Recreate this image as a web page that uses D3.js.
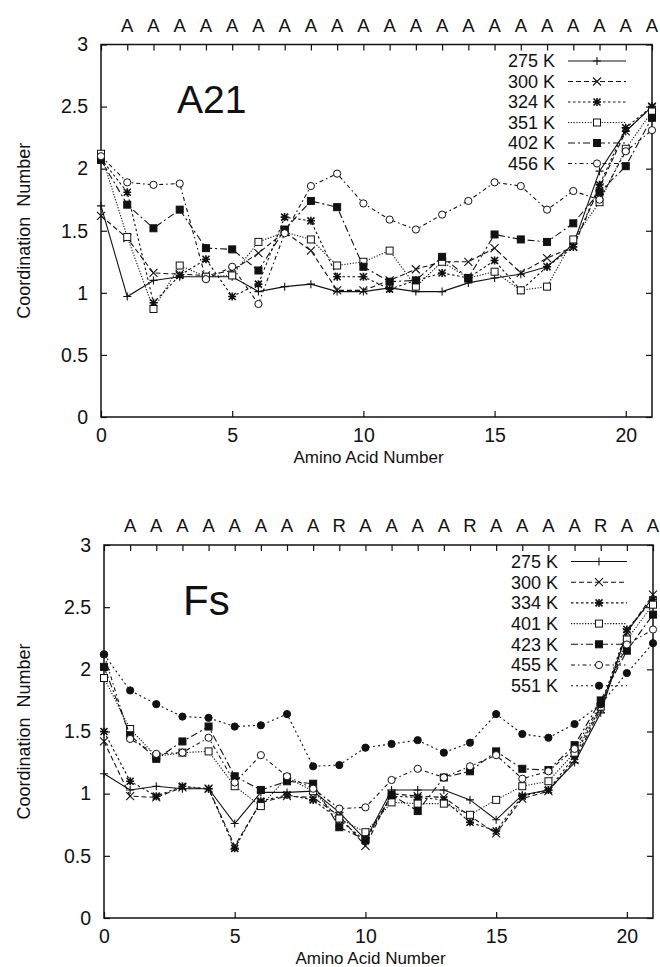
<!DOCTYPE html>
<html>
<head>
<meta charset="utf-8">
<script src="https://cdn.jsdelivr.net/npm/d3@7"></script>
<style>
body { margin: 0; background: #fff; }
svg { display: block; }
text { font-family: "Liberation Sans", Arial, sans-serif; fill: #111; }
</style>
</head>
<body>
<svg id="chart" width="660" height="967"></svg>
<script>
/**
* Data
*/
var aminoAcid = [0,1,2,3,4,5,6,7,8,9,10,11,12,13,14,15,16,17,18,19,20,21];
var xTicks = [0,5,10,15,20];
var yTicks = [0,0.5,1,1.5,2,2.5,3];

var a21Letters = ["A","A","A","A","A","A","A","A","A","A","A","A","A","A","A","A","A","A","A","A","A"];
var fsLetters  = ["A","A","A","A","A","A","A","A","R","A","A","A","A","R","A","A","A","A","R","A","A"];

var a21Names = ["275 K","300 K","324 K","351 K","402 K","456 K"];
var a21_275 = [1.70,0.97,1.10,1.13,1.13,1.13,1.01,1.05,1.07,1.01,1.01,1.04,1.01,1.01,1.08,1.12,1.15,1.21,1.39,1.98,2.30,2.50];
var a21_300 = [1.62,1.44,1.16,1.15,1.14,1.18,1.32,1.49,1.34,1.02,1.02,1.10,1.19,1.25,1.25,1.36,1.16,1.28,1.37,1.85,2.30,2.50];
var a21_324 = [2.08,1.81,0.92,1.14,1.27,0.97,1.07,1.61,1.58,1.13,1.13,1.03,1.10,1.16,1.12,1.26,1.02,1.21,1.37,1.87,2.33,2.50];
var a21_351 = [2.12,1.45,0.87,1.22,1.13,1.14,1.41,1.49,1.43,1.22,1.25,1.34,1.05,1.25,1.12,1.17,1.02,1.05,1.43,1.73,2.16,2.46];
var a21_402 = [2.07,1.71,1.52,1.67,1.36,1.35,1.18,1.51,1.74,1.69,1.21,1.09,1.10,1.29,1.12,1.47,1.43,1.41,1.56,1.81,2.02,2.41];
var a21_456 = [2.10,1.89,1.87,1.88,1.11,1.21,0.91,1.48,1.86,1.96,1.72,1.59,1.51,1.63,1.74,1.89,1.86,1.67,1.82,1.75,2.14,2.31];

var fsNames = ["275 K","300 K","334 K","401 K","423 K","455 K","551 K"];
var fs_275 = [1.16,1.03,1.06,1.04,1.04,0.76,1.01,1.01,1.02,0.85,0.63,1.03,1.03,1.03,0.95,0.79,0.99,1.03,1.25,1.65,2.30,2.58];
var fs_300 = [1.42,0.98,0.97,1.05,1.04,0.58,0.93,0.98,0.97,0.82,0.58,1.00,0.98,0.97,0.82,0.68,0.96,1.02,1.27,1.68,2.30,2.60];
var fs_334 = [1.50,1.10,0.98,1.06,1.04,0.56,0.94,0.99,0.95,0.79,0.62,0.98,0.97,0.95,0.77,0.70,0.98,1.03,1.30,1.70,2.32,2.56];
var fs_401 = [1.93,1.52,1.30,1.33,1.34,1.06,0.90,1.13,1.02,0.80,0.69,0.93,0.92,0.92,0.83,0.95,1.06,1.10,1.33,1.70,2.24,2.52];
var fs_423 = [2.02,1.47,1.28,1.42,1.54,1.14,1.03,1.10,1.08,0.73,0.63,0.99,0.86,1.13,1.18,1.34,1.20,1.19,1.39,1.75,2.15,2.44];
var fs_455 = [2.12,1.44,1.32,1.33,1.45,1.09,1.31,1.14,1.04,0.88,0.89,1.11,1.20,1.13,1.22,1.31,1.12,1.18,1.36,1.72,2.20,2.32];
var fs_551 = [2.12,1.83,1.72,1.62,1.61,1.54,1.55,1.64,1.22,1.23,1.37,1.40,1.43,1.33,1.41,1.64,1.48,1.45,1.56,1.72,1.97,2.21];

/* line / marker style per series slot */
var styles = [
	{ dash: null,          marker: "plus"   },
	{ dash: "5,3",         marker: "cross"  },
	{ dash: "2.5,2.5",     marker: "star"   },
	{ dash: "1.2,1.6",     marker: "square" },
	{ dash: "7,3,2,3",     marker: "squareFilled" },
	{ dash: "4,3,1.5,3",   marker: "circle" },
	{ dash: "2,3",         marker: "circleFilled" }
];

/**
* @func Append a marker of given kind centered at (cx, cy)
*/
function drawMarker(g, kind, cx, cy)
{
	var m = g.append("g").attr("transform", "translate(" + cx + "," + cy + ")");
	var s = 4;
	if (kind == "plus") {
		m.append("path").attr("d", "M" + (-s) + ",0H" + s + "M0," + (-s) + "V" + s)
			.attr("stroke", "#111").attr("stroke-width", 1.1);
	} else if (kind == "cross") {
		m.append("path").attr("d", "M-4,-4L4,4M-4,4L4,-4")
			.attr("stroke", "#111").attr("stroke-width", 1.1);
	} else if (kind == "star") {
		m.append("path").attr("d", "M-3.5,-3.5L3.5,3.5M-3.5,3.5L3.5,-3.5M-4,0H4M0,-4V4")
			.attr("stroke", "#111").attr("stroke-width", 1.6);
	} else if (kind == "square" || kind == "squareFilled") {
		m.append("rect").attr("x", -3.5).attr("y", -3.5).attr("width", 7).attr("height", 7)
			.attr("fill", kind == "square" ? "#fff" : "#111")
			.attr("stroke", "#111").attr("stroke-width", 1);
	} else {
		m.append("circle").attr("r", 3.6)
			.attr("fill", kind == "circle" ? "#fff" : "#111")
			.attr("stroke", "#111").attr("stroke-width", 1);
	}
}

/**
* @func Draw one panel
*/
function drawPanel(svg, p)
{
	var x = d3.scaleLinear().domain([0, 21]).range([p.left, p.right]);
	var y = d3.scaleLinear().domain([0, 3]).range([p.bottom, p.top]);

	var g = svg.append("g");

	// axes, ticks pointing inward
	g.append("g").attr("transform", "translate(" + p.left + ",0)")
		.call(d3.axisLeft(y).tickValues(yTicks).tickSize(-6).tickPadding(13).tickFormat(String));
	g.append("g").attr("transform", "translate(0," + p.bottom + ")")
		.call(d3.axisBottom(x).tickValues(xTicks).tickSize(-6).tickPadding(11).tickFormat(String));
	g.append("g").attr("transform", "translate(" + p.right + ",0)")
		.call(d3.axisRight(y).tickValues(yTicks).tickSize(-6).tickFormat(""));
	g.append("g").attr("transform", "translate(0," + p.top + ")")
		.call(d3.axisTop(x).tickValues(aminoAcid).tickSize(-6).tickFormat(""));

	g.selectAll(".domain").remove();
	g.selectAll(".tick line").attr("stroke", "#111").attr("stroke-width", 1.2);
	g.selectAll("g").attr("font-family", null).attr("font-size", null);
	g.selectAll(".tick text").style("font-size", "19.5px").attr("fill", "#111");

	g.append("rect")
		.attr("x", p.left).attr("y", p.top)
		.attr("width", p.right - p.left).attr("height", p.bottom - p.top)
		.attr("fill", "none").attr("stroke", "#111").attr("stroke-width", 1.5);

	// residue letters along the top
	g.selectAll(".res").data(p.letters).enter().append("text")
		.attr("class", "res")
		.attr("x", function(d, i) { return x(aminoAcid[i + 1]); })
		.attr("y", p.top - 13)
		.attr("text-anchor", "middle")
		.style("font-size", "18.5px")
		.text(function(d) { return d; });

	// panel label
	g.append("text").attr("x", p.labelX).attr("y", p.labelY)
		.style("font-size", p.labelSize + "px").text(p.label);

	// axis titles
	g.append("text")
		.attr("x", (p.left + p.right) / 2 - 8).attr("y", p.bottom + 45.5)
		.attr("text-anchor", "middle").style("font-size", "17px")
		.text("Amino Acid Number");
	g.append("text")
		.attr("transform", "translate(30," + ((p.top + p.bottom) / 2) + ") rotate(-90)")
		.attr("text-anchor", "middle").style("font-size", "18px")
		.style("white-space", "pre")
		.text("Coordination  Number");

	var line = d3.line()
		.x(function(d, i) { return x(aminoAcid[i]); })
		.y(function(d) { return y(d); });

	p.series.forEach(function(values, k) {
		var st = styles[p.styleIdx[k]];
		g.append("path").datum(values)
			.attr("d", line)
			.attr("fill", "none")
			.attr("stroke", "#111")
			.attr("stroke-width", 1.1)
			.attr("stroke-dasharray", st.dash);
		values.forEach(function(v, i) {
			drawMarker(g, st.marker, x(aminoAcid[i]), y(v));
		});

		// legend row
		var ly = p.legendTop + k * p.legendStep;
		g.append("text").attr("x", p.legendTextRight).attr("y", ly)
			.attr("dy", "0.36em").attr("text-anchor", "end")
			.style("font-size", "18px").text(p.names[k]);
		g.append("path")
			.attr("d", "M" + p.legendLine[0] + "," + ly + "H" + p.legendLine[1])
			.attr("stroke", "#111").attr("stroke-width", 1.1)
			.attr("stroke-dasharray", st.dash);
		drawMarker(g, st.marker, (p.legendLine[0] + p.legendLine[1]) / 2, ly);
	});
}

var svg = d3.select("#chart");

drawPanel(svg, {
	left: 101, right: 652, top: 44.5, bottom: 417,
	letters: a21Letters, label: "A21", labelX: 177, labelY: 113, labelSize: 39,
	names: a21Names,
	series: [a21_275, a21_300, a21_324, a21_351, a21_402, a21_456],
	styleIdx: [0, 1, 2, 3, 4, 5],
	legendTop: 61, legendStep: 20.5, legendTextRight: 555, legendLine: [568, 626]
});

drawPanel(svg, {
	left: 104, right: 653, top: 545, bottom: 918,
	letters: fsLetters, label: "Fs", labelX: 183, labelY: 615, labelSize: 42,
	names: fsNames,
	series: [fs_275, fs_300, fs_334, fs_401, fs_423, fs_455, fs_551],
	styleIdx: [0, 1, 2, 3, 4, 5, 6],
	legendTop: 561.5, legendStep: 20.7, legendTextRight: 558, legendLine: [571, 627]
});
</script>
</body>
</html>
